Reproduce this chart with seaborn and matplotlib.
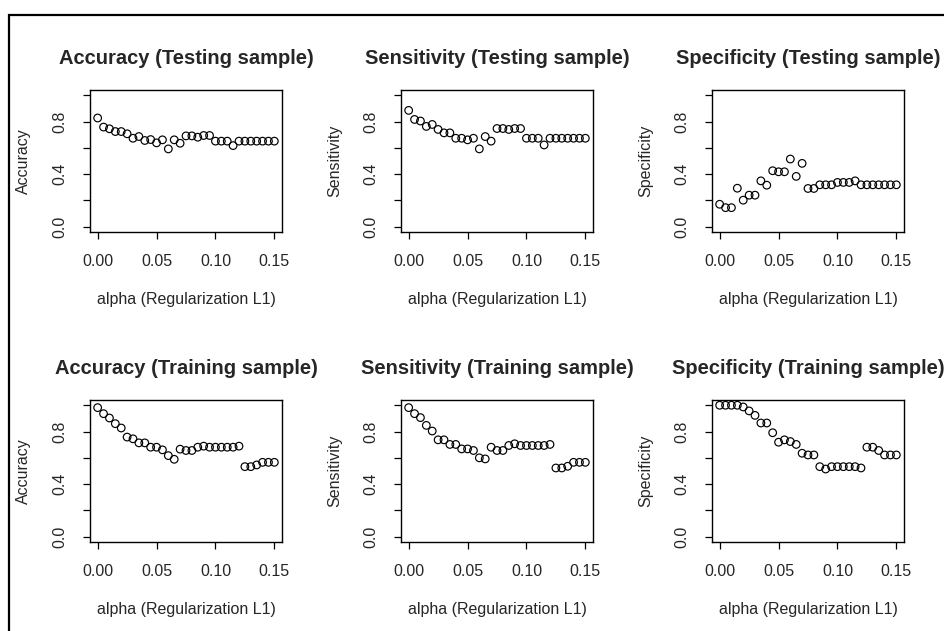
import numpy as np
import pandas as pd
import matplotlib.pyplot as plt
import seaborn as sns
from matplotlib.patches import Rectangle

# alpha grid (0 to 0.15 by 0.005)
alpha = [round(0.005 * i, 3) for i in range(31)]

# testing sample
acc_test = [0.827, 0.758, 0.745, 0.724, 0.724, 0.707, 0.673, 0.686, 0.656, 0.663, 0.638,
            0.661, 0.592, 0.661, 0.635, 0.691, 0.691, 0.681, 0.694, 0.694, 0.651, 0.651,
            0.651, 0.617, 0.651, 0.651, 0.651, 0.651, 0.651, 0.651, 0.651]
sens_test = [0.885, 0.816, 0.804, 0.763, 0.778, 0.740, 0.714, 0.714, 0.673, 0.673, 0.661,
             0.673, 0.592, 0.686, 0.651, 0.747, 0.747, 0.740, 0.747, 0.747, 0.673, 0.673,
             0.673, 0.622, 0.673, 0.673, 0.673, 0.673, 0.673, 0.673, 0.673]
spec_test = [0.171, 0.145, 0.145, 0.293, 0.202, 0.240, 0.240, 0.349, 0.316, 0.426, 0.418,
             0.418, 0.515, 0.383, 0.482, 0.291, 0.291, 0.319, 0.319, 0.319, 0.337, 0.337,
             0.337, 0.349, 0.319, 0.319, 0.319, 0.319, 0.319, 0.319, 0.319]

# training sample
acc_train = [0.982, 0.936, 0.903, 0.860, 0.827, 0.758, 0.745, 0.714, 0.714, 0.681, 0.681,
             0.661, 0.617, 0.589, 0.666, 0.656, 0.656, 0.681, 0.689, 0.681, 0.681, 0.681,
             0.681, 0.681, 0.689, 0.533, 0.533, 0.546, 0.566, 0.566, 0.566]
sens_train = [0.982, 0.936, 0.906, 0.847, 0.804, 0.737, 0.737, 0.702, 0.702, 0.668, 0.668,
              0.656, 0.600, 0.592, 0.681, 0.656, 0.656, 0.694, 0.707, 0.694, 0.694, 0.694,
              0.694, 0.694, 0.702, 0.523, 0.523, 0.536, 0.566, 0.566, 0.566]
spec_train = [1.0, 1.0, 1.0, 1.0, 0.987, 0.957, 0.923, 0.865, 0.865, 0.791, 0.719,
              0.737, 0.724, 0.702, 0.635, 0.622, 0.622, 0.533, 0.515, 0.533, 0.533, 0.533,
              0.533, 0.533, 0.523, 0.681, 0.681, 0.656, 0.622, 0.622, 0.622]

metrics = ["Accuracy", "Sensitivity", "Specificity"]
samples = ["Testing", "Training"]
values = [[acc_test, sens_test, spec_test], [acc_train, sens_train, spec_train]]

xticks = [0.0, 0.05, 0.10, 0.15]
xticklabels = ["0.00", "0.05", "0.10", "0.15"]
yticks = [0.0, 0.2, 0.4, 0.6, 0.8, 1.0]
yticklabels = ["0.0", "", "0.4", "", "0.8", ""]

sns.set_style("white")
plt.rcParams['font.family'] = ['Liberation Sans', 'DejaVu Sans']

W, H = 944, 631
fig = plt.figure(figsize=(W / 100, H / 100), dpi=100)

# outer frame (only left/top edges visible in the screenshot)
fig.add_artist(Rectangle((9 / W, -1), 2, 1 + (1 - 15 / H), transform=fig.transFigure,
                         fill=False, lw=1.6, ec="black"))

col_left = [90, 401, 712]
row_top = [90, 400]
aw, ah = 192, 142

for r, sample in enumerate(samples):
    for c, metric in enumerate(metrics):
        ax = fig.add_axes([col_left[c] / W, (H - row_top[r] - ah) / H, aw / W, ah / H])
        df = pd.DataFrame({"alpha": alpha, "value": values[r][c]})
        sns.scatterplot(data=df, x="alpha", y="value", ax=ax, marker="o", s=30,
                        facecolor="none", edgecolor="black", linewidth=0.85)
        ax.set_xlim(-0.0065, 0.1565)
        ax.set_ylim(-0.04, 1.04)
        ax.set_xticks(xticks)
        ax.set_xticklabels(xticklabels, fontsize=11.5)
        ax.set_yticks(yticks)
        ax.set_yticklabels(yticklabels, fontsize=11.5, rotation=90, va="center")
        ax.tick_params(axis="both", direction="out", length=5.2, width=0.9,
                       color="black", pad=11, left=True, bottom=True)
        for sp in ax.spines.values():
            sp.set_visible(True)
            sp.set_color("black")
            sp.set_linewidth(1.0)
        ax.set_title(f"{metric} ({sample} sample)", fontsize=14.5, fontweight="bold", pad=19)
        ax.set_xlabel("alpha (Regularization L1)", fontsize=11.5)
        ax.set_ylabel(metric, fontsize=11.5)
        ax.xaxis.set_label_coords(0.5, -(292 - 232) / ah)
        ax.yaxis.set_label_coords(-(90 - 31) / aw, 0.5)

fig.savefig("out.png", dpi=100)
